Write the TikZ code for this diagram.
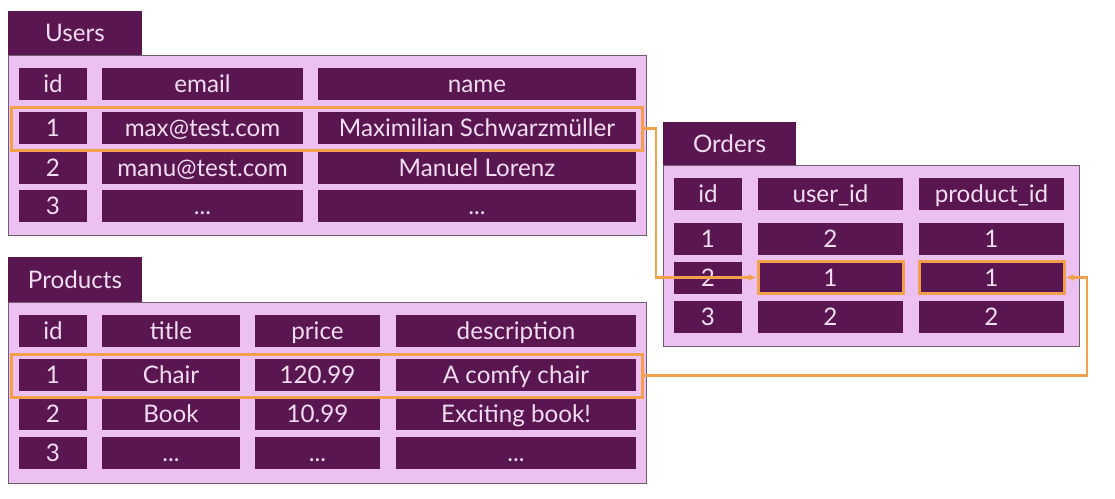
\documentclass[tikz,border=0pt]{standalone}
\usepackage{fontspec}
\setmainfont{Lato}
\usepackage{tikz}
\usetikzlibrary{calc, shapes, arrows, arrows.meta}
\usetikzlibrary{positioning}
\definecolor{cellpurple}{RGB}{90,22,80}
\definecolor{tablepink}{RGB}{236,192,240}
\definecolor{celltext}{RGB}{242,220,242}
\definecolor{linkorange}{RGB}{242,160,76}
\definecolor{tableedge}{RGB}{112,92,112}
\tikzstyle{cell} = [rectangle, fill=cellpurple, text=celltext, inner sep=0pt, minimum height=32pt, text height=17.4pt, text depth=0pt, font=\fontsize{24.2}{27}\selectfont]
\tikzstyle{tab} = [cell, minimum width=134pt, minimum height=44pt]
\tikzstyle{tablebody} = [rectangle, draw=tableedge, fill=tablepink, line width=1pt, inner sep=0pt]
\tikzstyle{rowmark} = [rectangle, draw=linkorange, line width=3pt, inner sep=0pt, minimum width=631pt, minimum height=43pt]
\tikzstyle{keycell} = [cell, draw=linkorange, line width=3pt]
\tikzstyle{link} = [draw=linkorange, line width=2.6pt, -{Latex[length=8pt, width=7pt]}]

\begin{document}
\begin{tikzpicture}[x=1pt, y=-1pt]
        \useasboundingbox (0, 0) rectangle (1115, 498);

        \node[tablebody, minimum width=638pt, minimum height=180pt] at (327, 145) (UsersBody) {};
        \node[tab] at (75, 33) (UsersTab) {Users};
        \node[cell, minimum width=68pt] at (53, 84) (UsersIdHead) {id};
        \node[cell, minimum width=201pt] at (202.5, 84) (UsersEmailHead) {email};
        \node[cell, minimum width=318pt] at (477, 84) (UsersNameHead) {name};
        \node[cell, minimum width=68pt] at (53, 128) (UsersId1) {1};
        \node[cell, minimum width=201pt] at (202.5, 128) (UsersEmail1) {max@test.com};
        \node[cell, minimum width=318pt] at (477, 128) (UsersName1) {Maximilian Schwarzmüller};
        \node[cell, minimum width=68pt] at (53, 168) (UsersId2) {2};
        \node[cell, minimum width=201pt] at (202.5, 168) (UsersEmail2) {manu@test.com};
        \node[cell, minimum width=318pt] at (477, 168) (UsersName2) {Manuel Lorenz};
        \node[cell, minimum width=68pt] at (53, 206) (UsersId3) {3};
        \node[cell, minimum width=201pt] at (202.5, 206) (UsersEmail3) {...};
        \node[cell, minimum width=318pt] at (477, 206) (UsersName3) {...};
        \node[rowmark] at (326.5, 128.5) (UsersMark) {};

        \node[tablebody, minimum width=638pt, minimum height=181pt] at (327, 392.5) (ProductsBody) {};
        \node[tab, minimum height=45pt] at (75, 279.5) (ProductsTab) {Products};
        \node[cell, minimum width=68pt] at (53, 331) (ProductsIdHead) {id};
        \node[cell, minimum width=138pt] at (171, 331) (ProductsTitleHead) {title};
        \node[cell, minimum width=125pt] at (317.5, 331) (ProductsPriceHead) {price};
        \node[cell, minimum width=240pt] at (516, 331) (ProductsDescHead) {description};
        \node[cell, minimum width=68pt] at (53, 375) (ProductsId1) {1};
        \node[cell, minimum width=138pt] at (171, 375) (ProductsTitle1) {Chair};
        \node[cell, minimum width=125pt] at (317.5, 375) (ProductsPrice1) {120.99};
        \node[cell, minimum width=240pt] at (516, 375) (ProductsDesc1) {A comfy chair};
        \node[cell, minimum width=68pt] at (53, 414) (ProductsId2) {2};
        \node[cell, minimum width=138pt] at (171, 414) (ProductsTitle2) {Book};
        \node[cell, minimum width=125pt] at (317.5, 414) (ProductsPrice2) {10.99};
        \node[cell, minimum width=240pt] at (516, 414) (ProductsDesc2) {Exciting book!};
        \node[cell, minimum width=68pt] at (53, 453) (ProductsId3) {3};
        \node[cell, minimum width=138pt] at (171, 453) (ProductsTitle3) {...};
        \node[cell, minimum width=125pt] at (317.5, 453) (ProductsPrice3) {...};
        \node[cell, minimum width=240pt] at (516, 453) (ProductsDesc3) {...};
        \node[rowmark] at (326.5, 375.5) (ProductsMark) {};

        \node[tablebody, minimum width=416pt, minimum height=181pt] at (871, 255.5) (OrdersBody) {};
        \node[tab, minimum width=133pt, minimum height=43pt] at (729.5, 143.5) (OrdersTab) {Orders};
        \node[cell, minimum width=68pt] at (708, 194) (OrdersIdHead) {id};
        \node[cell, minimum width=145pt] at (830.5, 194) (OrdersUserHead) {user\_id};
        \node[cell, minimum width=145pt] at (991.5, 194) (OrdersProductHead) {product\_id};
        \node[cell, minimum width=68pt] at (708, 238.5) (OrdersId1) {1};
        \node[cell, minimum width=145pt] at (830.5, 238.5) (OrdersUser1) {2};
        \node[cell, minimum width=145pt] at (991.5, 238.5) (OrdersProduct1) {1};
        \node[cell, minimum width=68pt] at (708, 277.5) (OrdersId2) {2};
        \node[keycell, minimum width=145pt] at (830.5, 277.5) (OrdersUser2) {1};
        \node[keycell, minimum width=145pt] at (991.5, 277.5) (OrdersProduct2) {1};
        \node[cell, minimum width=68pt] at (708, 317) (OrdersId3) {3};
        \node[cell, minimum width=145pt] at (830.5, 317) (OrdersUser3) {2};
        \node[cell, minimum width=145pt] at (991.5, 317) (OrdersProduct3) {2};

        \coordinate (UsersTurn) at (656, 128.5);
        \coordinate (ProductsTurn) at (1087, 375.5);
        \draw[link] (UsersMark.east) -- (UsersTurn) |- (OrdersUser2.west);
        \draw[link] (ProductsMark.east) -- (ProductsTurn) |- (OrdersProduct2.east);
    \end{tikzpicture}
\end{document}
